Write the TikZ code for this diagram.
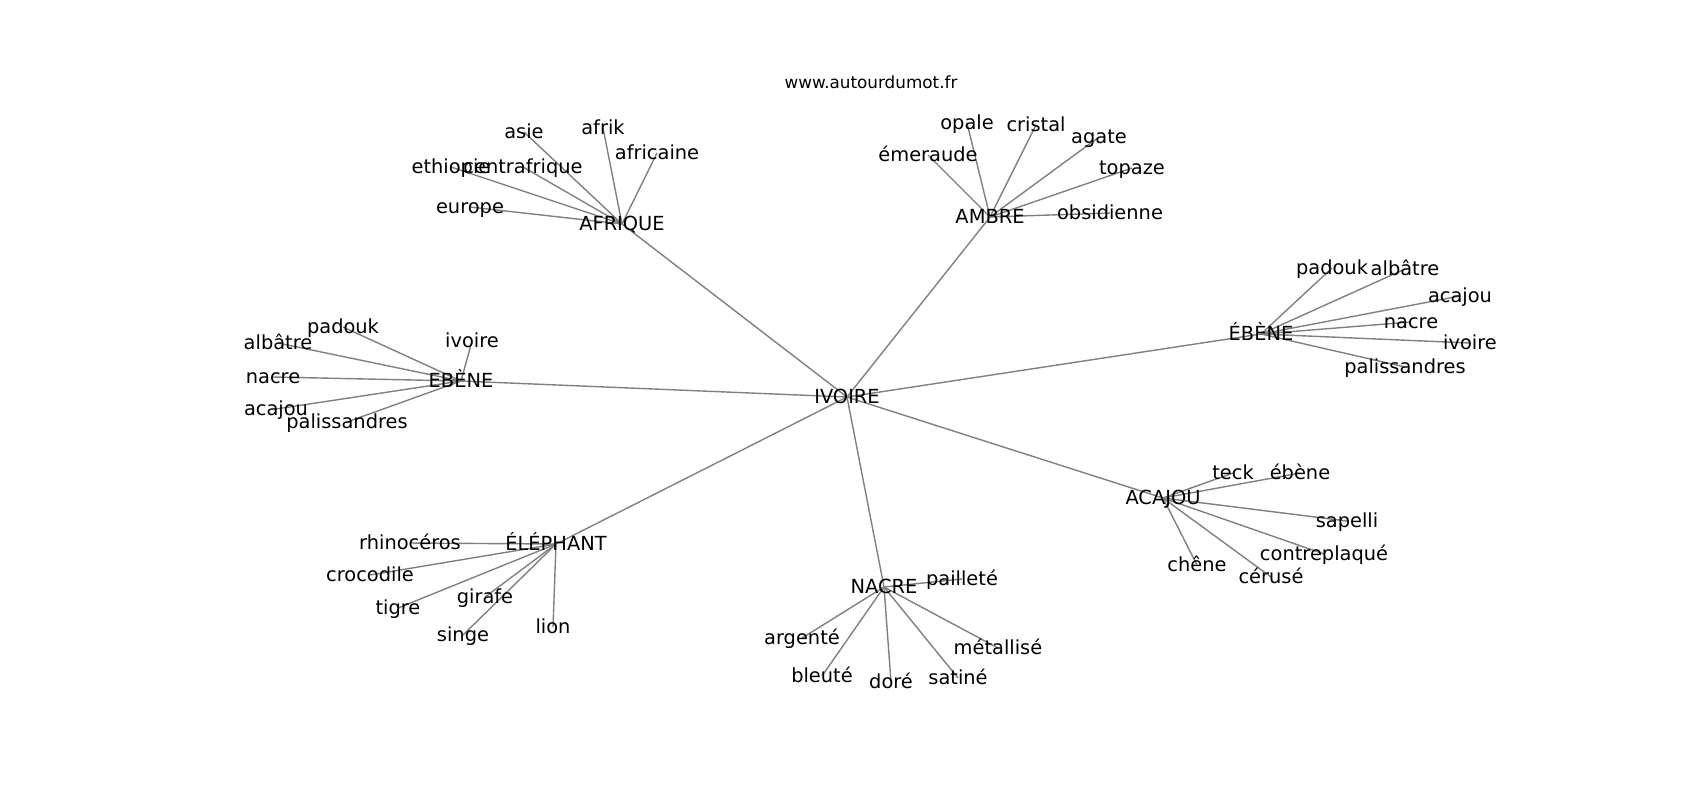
\documentclass[tikz,border=0pt]{standalone}
\usepackage{fontspec}
\setmainfont{DejaVu Sans}
\usetikzlibrary{backgrounds}
\tikzset{
  word/.style={inner sep=0pt, font=\fontsize{9.7}{11}\selectfont, text height=9pt, text depth=2.3pt},
  link/.style={draw=gray, line width=0.7pt},
}
\begin{document}
\begin{tikzpicture}[x=0.5pt,y=-0.5pt]
  \useasboundingbox (0,0) rectangle (1700,800);
  \newcommand{\wordfan}[2]{%
    \foreach \n/\x/\y/\t in {#2} {%
      \node[word] (#1-\n) at (\x,\y) {\t};
      \begin{pgfonlayer}{background}\draw[link] (#1.center) -- (#1-\n.center);\end{pgfonlayer}
    }
  }
  % Title
  \node[inner sep=0pt, font=\fontsize{8.4}{10}\selectfont] (site) at (871,82) {www.autourdumot.fr};
  % Centre word
  \node[word] (ivoire) at (847,397) {IVOIRE};
  % Hub words, linked to the centre
  \foreach \n/\x/\y/\t in {afrique/622/224/AFRIQUE, ambre/990/217/AMBRE, ebeneL/461/381/EBÈNE,
      ebeneR/1261/334/ÉBÈNE, elephant/556/544/ÉLÉPHANT, nacre/884/587/NACRE, acajou/1163/498/ACAJOU} {
    \node[word] (\n) at (\x,\y) {\t};
    \begin{pgfonlayer}{background}\draw[link] (ivoire.center) -- (\n.center);\end{pgfonlayer}
  }
  % Leaf words
  \wordfan{afrique}{asie/524/132/asie, afrik/603/128/afrik, africaine/657/153/africaine,
    ethiopie/451/167/ethiopie, centrafrique/523/167/centrafrique, europe/470/207/europe}
  \wordfan{ambre}{emeraude/928/155/émeraude, opale/967/123/opale, cristal/1036/125/cristal,
    agate/1099/137/agate, topaze/1132/168/topaze, obsidienne/1110/213/obsidienne}
  \wordfan{ebeneL}{padouk/343/327/padouk, albatre/278/343/albâtre, ivoire/472/341/ivoire,
    nacre/273/377/nacre, acajou/276/409/acajou, palissandres/347/422/palissandres}
  \wordfan{ebeneR}{padouk/1332/268/padouk, albatre/1405/269/albâtre, acajou/1460/296/acajou,
    nacre/1411/322/nacre, ivoire/1470/343/ivoire, palissandres/1405/367/palissandres}
  \wordfan{elephant}{rhinoceros/410/543/rhinocéros, crocodile/370/575/crocodile, tigre/398/608/tigre,
    girafe/485/597/girafe, singe/463/635/singe, lion/553/627/lion}
  \wordfan{nacre}{paillete/962/579/pailleté, argente/802/638/argenté, bleute/822/676/bleuté,
    dore/891/682/doré, satine/958/678/satiné, metallise/998/648/métallisé}
  \wordfan{acajou}{teck/1233/473/teck, ebene/1300/473/ébène, sapelli/1347/521/sapelli,
    contreplaque/1324/554/contreplaqué, chene/1197/565/chêne, ceruse/1271/577/cérusé}
\end{tikzpicture}
\end{document}
